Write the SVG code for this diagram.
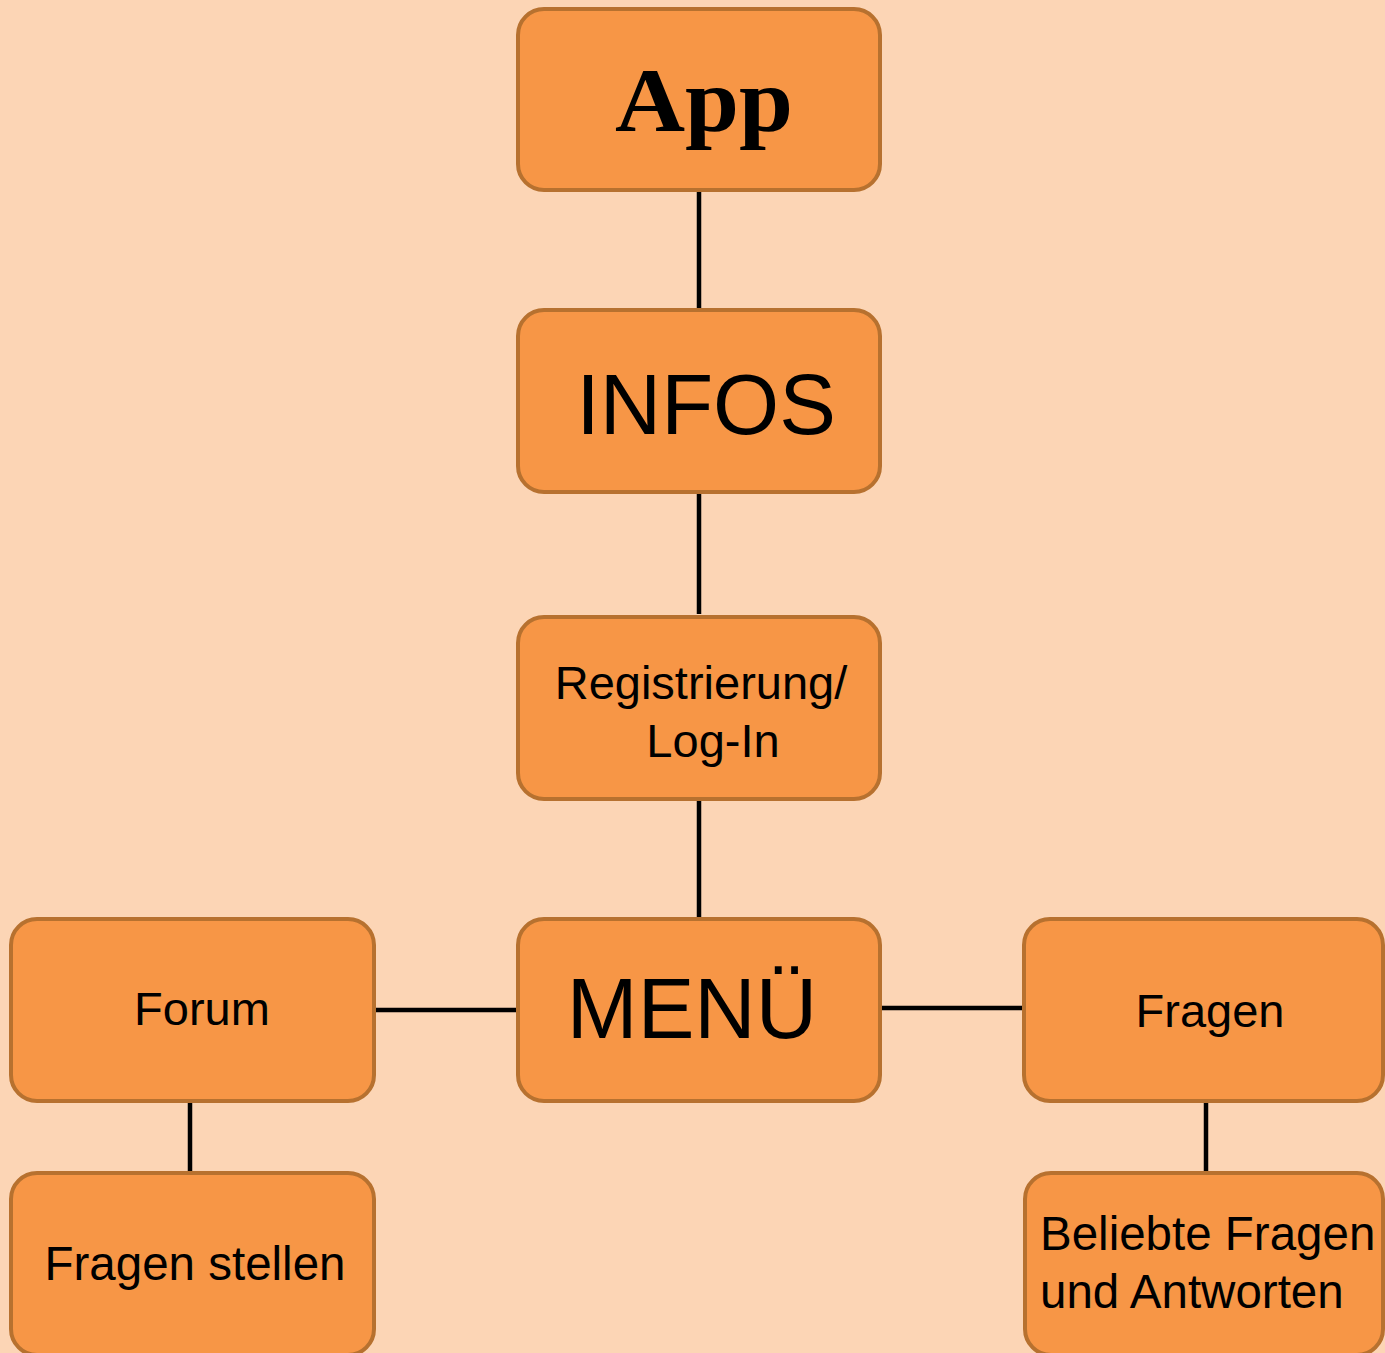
<svg xmlns="http://www.w3.org/2000/svg" width="1385" height="1353" viewBox="0 0 1385 1353">
<style>
.box{fill:#F79646;stroke:#B7712F;stroke-width:4}
.t{font-family:"Liberation Sans",Arial,sans-serif;fill:#000}
.c{stroke:#000;stroke-width:4.5;fill:none}
</style>
<rect x="0" y="0" width="1385" height="1353" fill="#FCD5B5"/>
<g id="connectors">
<line class="c" x1="699" y1="190" x2="699" y2="310"/>
<line class="c" x1="699" y1="492" x2="699" y2="614"/>
<line class="c" x1="699" y1="799" x2="699" y2="919"/>
<line class="c" x1="374" y1="1010" x2="518" y2="1010"/>
<line class="c" x1="880" y1="1008" x2="1024" y2="1008"/>
<line class="c" x1="190" y1="1101" x2="190" y2="1173"/>
<line class="c" x1="1206" y1="1101" x2="1206" y2="1173"/>
</g>
<g id="app">
<rect class="box" x="518" y="9" width="362" height="181" rx="26"/>
<text x="615" y="131" textLength="178" lengthAdjust="spacingAndGlyphs" font-family="'Liberation Serif','Times New Roman',serif" font-weight="bold" font-size="92">App</text>
</g>
<g id="infos">
<rect class="box" x="518" y="310" width="362" height="182" rx="26"/>
<text class="t" x="706" y="434" text-anchor="middle" font-size="85">INFOS</text>
</g>
<g id="registrierung">
<rect class="box" x="518" y="617" width="362" height="182" rx="26"/>
<text class="t" x="701" y="699" text-anchor="middle" font-size="47">Registrierung/</text>
<text class="t" x="713" y="757" text-anchor="middle" font-size="47">Log-In</text>
</g>
<g id="menu">
<rect class="box" x="518" y="919" width="362" height="182" rx="26"/>
<text class="t" x="692" y="1038" text-anchor="middle" font-size="85">MENÜ</text>
</g>
<g id="forum">
<rect class="box" x="11" y="919" width="363" height="182" rx="26"/>
<text class="t" x="202" y="1025" text-anchor="middle" font-size="47">Forum</text>
</g>
<g id="fragen-stellen">
<rect class="box" x="11" y="1173" width="363" height="182" rx="26"/>
<text class="t" x="195" y="1280" text-anchor="middle" font-size="47.5">Fragen stellen</text>
</g>
<g id="fragen">
<rect class="box" x="1024" y="919" width="359" height="182" rx="26"/>
<text class="t" x="1210" y="1027" text-anchor="middle" font-size="47">Fragen</text>
</g>
<g id="beliebte">
<rect class="box" x="1025" y="1173" width="358" height="182" rx="26"/>
<text class="t" x="1040" y="1250" font-size="47.5">Beliebte Fragen</text>
<text class="t" x="1040" y="1308" font-size="47.5">und Antworten</text>
</g>
</svg>
